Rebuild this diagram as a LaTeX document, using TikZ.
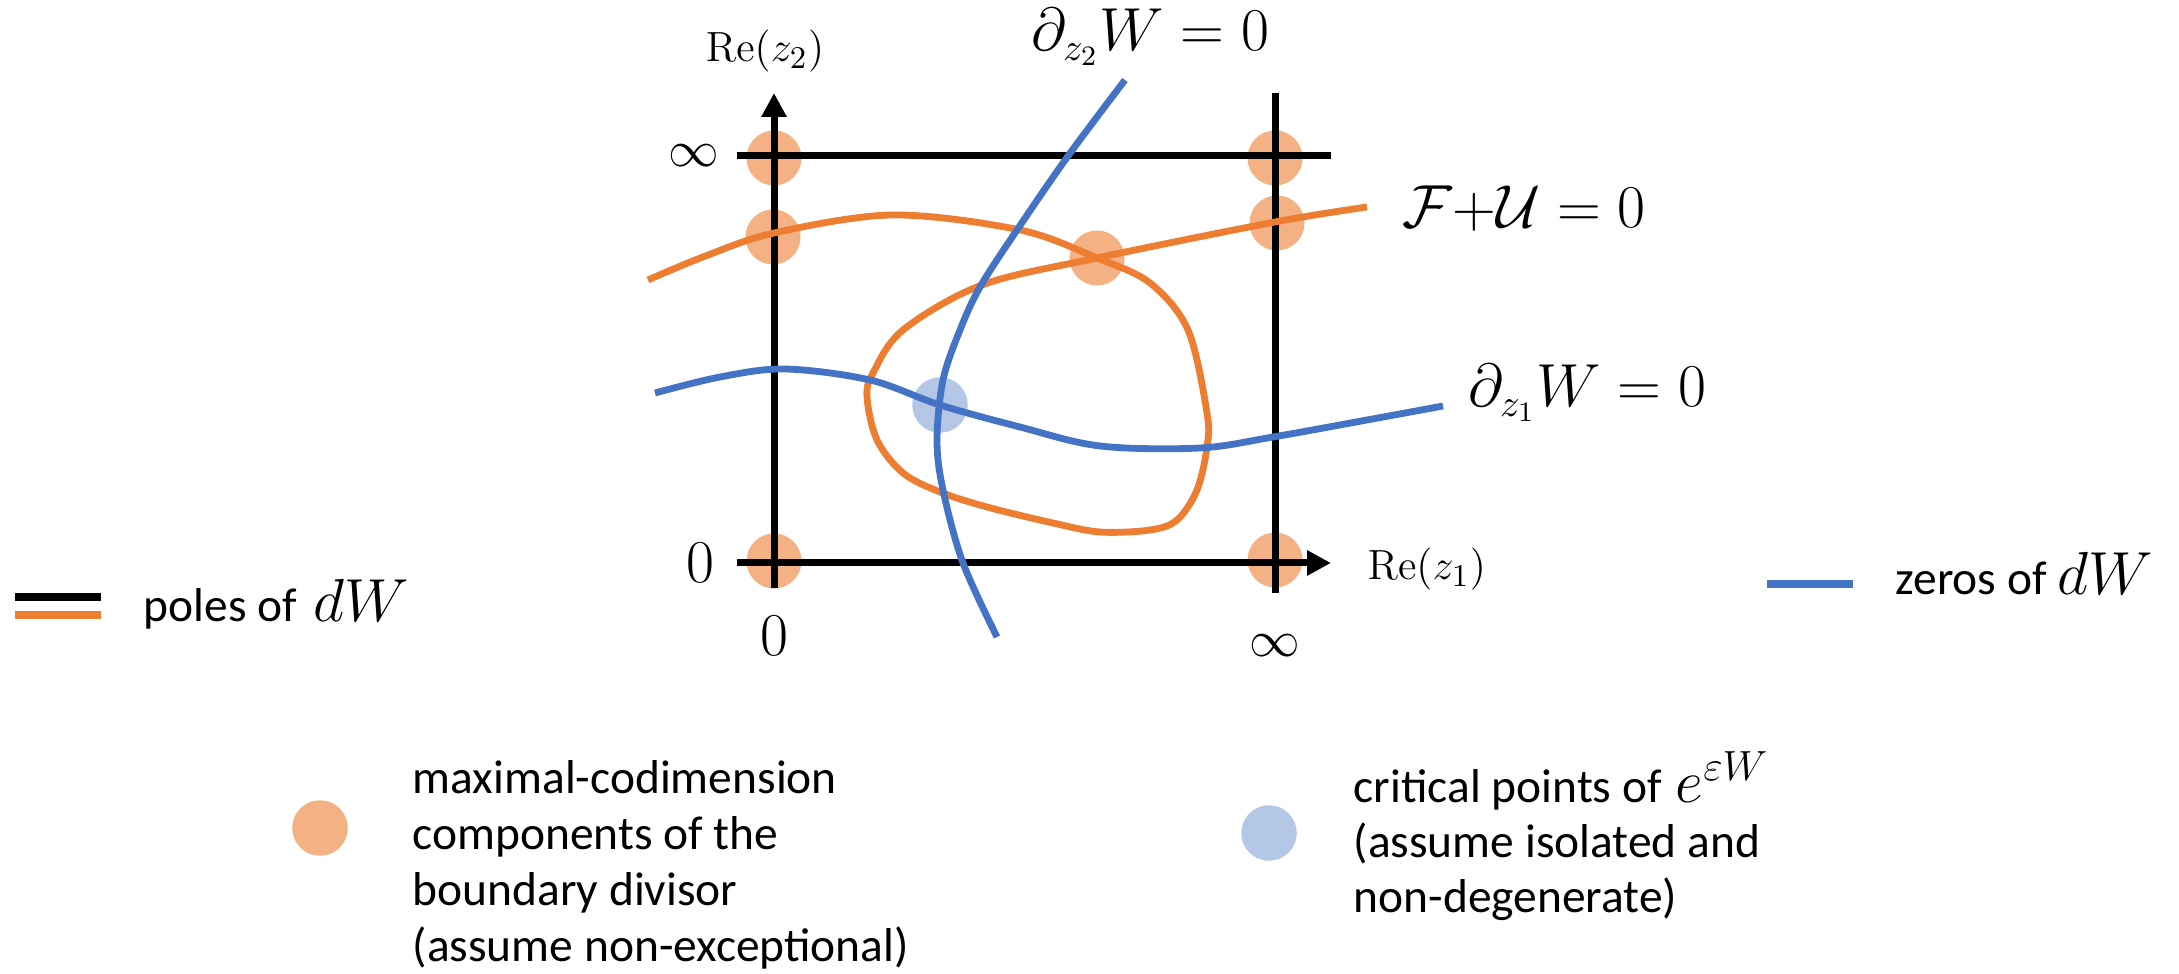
\documentclass[tikz,border=0pt]{standalone}
\usepackage[no-math]{fontspec}
\setmainfont{Carlito}
\usetikzlibrary{arrows.meta}
\definecolor{ora}{HTML}{ED7D31}
\definecolor{blu}{HTML}{4472C4}
\definecolor{lora}{HTML}{F4B183}
\definecolor{lblu}{HTML}{B4C7E7}
\tikzset{
  axis/.style={line width=0.07cm, black},
  axarrow/.style={axis, -{Triangle[length=0.24cm,width=0.24cm]}},
  ocurve/.style={line width=0.068cm, ora},
  bcurve/.style={line width=0.068cm, blu},
  odot/.style={circle, fill=lora, draw=none, minimum size=0.55cm, inner sep=0},
  bdot/.style={circle, fill=lblu, draw=none, minimum size=0.555cm, inner sep=0},
  txt/.style={font=\fontsize{13.5}{16}\selectfont, inner sep=0, anchor=base west},
  eq/.style={font=\fontsize{16}{19}\selectfont, inner sep=0, anchor=base west},
  lm/.style={font=\fontsize{17}{20}\selectfont, inner sep=0, anchor=base west},
  axlab/.style={font=\fontsize{12.2}{14}\selectfont, inner sep=0},
  tick/.style={font=\fontsize{16.5}{19}\selectfont, inner sep=0},
  inflab/.style={font=\fontsize{14.5}{17}\selectfont, inner sep=0},
  legline/.style={line width=0.08cm}
}
\begin{document}
\begin{tikzpicture}[x=0.01cm, y=-0.01cm]
\useasboundingbox (0,0) rectangle (2179,974);

% maximal-codimension points and critical point
\node[odot] (p1) at (774,158) {};
\node[odot] (p2) at (773,237) {};
\node[odot] (p3) at (1097,258) {};
\node[odot] (p4) at (1275,158) {};
\node[odot] (p5) at (1277,223) {};
\node[odot] (p6) at (774,561) {};
\node[odot] (p7) at (1275,560) {};
\node[bdot] (c1) at (940,405) {};

% axes and boundary lines
\coordinate (ybot) at (774,588);
\coordinate (ytop) at (774,93);
\coordinate (xl) at (737,563);
\coordinate (xr) at (1331,563);
\coordinate (tl) at (737,156);
\coordinate (tr) at (1331,156);
\coordinate (rt) at (1275,93);
\coordinate (rb) at (1275,593);
\draw[axarrow] (ybot) -- (ytop);
\draw[axarrow] (xl) -- (xr);
\draw[axis] (tl) -- (tr);
\draw[axis] (rt) -- (rb);

% F+U = 0 curve
\draw[ocurve] plot[smooth, tension=0.55] coordinates {
 (648,280) (703,257) (774,233) (893,215) (1020,230) (1097,258)
 (1150,283) (1188,330) (1207,413) (1207,447) (1197,490) (1177,520)
 (1150,530) (1100,532) (1053,523) (987,507) (940,492) (903,473)
 (877,440) (867,397) (873,373) (903,330) (982,285) (1097,258)
 (1275,222) (1367,207)};
\coordinate (oend) at (1367,207);

% d_{z1} W = 0 curve
\draw[bcurve] plot[smooth, tension=0.55] coordinates {
 (655,393) (720,377) (785,369) (870,380) (940,405) (1020,427)
 (1100,446) (1200,448) (1273,437) (1367,420) (1443,406)};
\coordinate (b1end) at (1443,406);

% d_{z2} W = 0 curve
\draw[bcurve] plot[smooth, tension=0.55] coordinates {
 (1125,80) (1068,156) (1017,230) (980,287) (960,330) (943,380)
 (937,440) (943,490) (963,563) (997,637)};
\coordinate (b2end) at (1125,80);

% axis labels
\node[axlab, anchor=base] (rez2) at (765,62) {$\mathrm{Re}(z_2)$};
\node[axlab, anchor=base west] (rez1) at (1367,580) {$\mathrm{Re}(z_1)$};
\node[inflab] (inftop) at (694,156) {$\infty$};
\node[tick] (zleft) at (700,563) {$0$};
\node[tick] (zbot) at (774,636) {$0$};
\node[inflab] (infbot) at (1275,646) {$\infty$};

% curve labels
\node[eq] (lz2) at (1031,51) {$\partial_{z_2}W=0$};
\node[eq] (lfu) at (1402,228) {$\mathcal{F}{+}\mathcal{U}=0$};
\node[eq] (lz1) at (1468,407) {$\partial_{z_1}W=0$};

% legend: poles
\coordinate (lk1) at (15,597);
\coordinate (lk2) at (101,597);
\coordinate (lo1) at (15,615);
\coordinate (lo2) at (101,615);
\draw[legline, black] (lk1) -- (lk2);
\draw[legline, ora] (lo1) -- (lo2);
\node[txt] (poles) at (143,622) {poles of};
\node[lm] (poldw) at (313,622) {$dW$};

% legend: zeros
\coordinate (lb1) at (1767,584);
\coordinate (lb2) at (1853,584);
\draw[legline, blu] (lb1) -- (lb2);
\node[txt] (zeros) at (1895,595) {zeros of};
\node[lm] (zerdw) at (2057,595) {$dW$};

% legend: orange dots
\node[odot, minimum size=0.555cm] (lod) at (320,828) {};
\node[txt] (m1) at (412,794) {maximal-codimension};
\node[txt] (m2) at (412,850) {components of the};
\node[txt] (m3) at (412,906) {boundary divisor};
\node[txt] (m4) at (412,962) {(assume non-exceptional)};

% legend: blue dots
\node[bdot] (lbd) at (1269,833) {};
\node[txt] (k1) at (1353,803) {critical points of};
\node[lm] (k1m) at (1675,803) {$e^{\varepsilon W}$};
\node[txt] (k2) at (1353,858) {(assume isolated and};
\node[txt] (k3) at (1353,913) {non-degenerate)};
\end{tikzpicture}
\end{document}
